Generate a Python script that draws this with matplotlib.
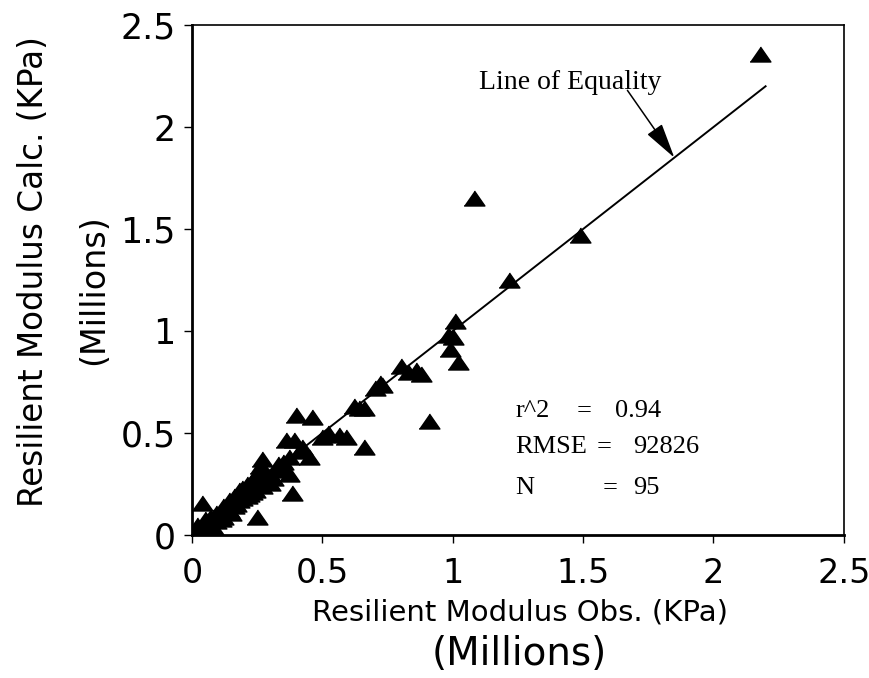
import matplotlib
matplotlib.use("Agg")
import matplotlib.pyplot as plt

obs = [0.00, 0.01, 0.02, 0.03, 0.04, 0.05, 0.06, 0.07, 0.08, 0.09,
       0.10, 0.11, 0.12, 0.13, 0.14, 0.15, 0.16, 0.17, 0.18, 0.19,
       0.20, 0.21, 0.22, 0.23, 0.24, 0.25, 0.25, 0.26, 0.27, 0.28,
       0.30, 0.29, 0.32, 0.04, 0.06, 0.02, 0.08, 0.12, 0.15, 0.18,
       0.22, 0.24, 0.27, 0.28, 0.31,
       0.36, 0.39, 0.40, 0.46, 0.37, 0.41, 0.45, 0.37, 0.385, 0.35,
       0.42, 0.34, 0.50, 0.52, 0.565, 0.59, 0.66, 0.62, 0.64, 0.66,
       0.72, 0.70, 0.73, 0.80, 0.86, 0.88, 0.83, 0.91, 0.98, 0.99,
       1.01, 1.02, 1.00, 1.215, 1.49, 1.08, 2.18,
       0.01, 0.03, 0.05, 0.07, 0.09, 0.11, 0.14, 0.16, 0.19, 0.21,
       0.23, 0.27, 0.33]
calc = [0.00, 0.01, 0.02, 0.025, 0.03, 0.05, 0.06, 0.05, 0.09, 0.07,
        0.10, 0.12, 0.09, 0.13, 0.12, 0.16, 0.19, 0.15, 0.22, 0.18,
        0.21, 0.19, 0.23, 0.27, 0.22, 0.09, 0.25, 0.34, 0.30, 0.26,
        0.255, 0.29, 0.32, 0.155, 0.03, 0.05, 0.04, 0.14, 0.11, 0.17,
        0.20, 0.29, 0.24, 0.31, 0.28,
        0.465, 0.465, 0.59, 0.58, 0.38, 0.41, 0.38, 0.30, 0.205, 0.36,
        0.43, 0.33, 0.48, 0.50, 0.49, 0.48, 0.43, 0.63, 0.62, 0.62,
        0.745, 0.72, 0.735, 0.83, 0.81, 0.79, 0.80, 0.56, 0.98, 0.91,
        1.05, 0.85, 0.97, 1.25, 1.47, 1.65, 2.36,
        0.03, 0.01, 0.08, 0.09, 0.11, 0.08, 0.17, 0.14, 0.23, 0.25,
        0.21, 0.37, 0.35]

eq_line = [0, 2.2]
ticks = [0, 0.5, 1, 1.5, 2, 2.5]
tick_labels = ["0", "0.5", "1", "1.5", "2", "2.5"]

fig = plt.figure(figsize=(8.69, 6.78), dpi=100)
ax = fig.add_axes([0.221, 0.211, 0.750, 0.752])

tri = [(-1, -0.72), (1, -0.72), (0, 0.72)]
ax.plot(eq_line, eq_line, color="black", lw=1.4, zorder=2)
ax.plot(obs, calc, linestyle="none", marker=tri, ms=15, color="black", zorder=3)

ax.set_xlim(0, 2.5)
ax.set_ylim(0, 2.5)
ax.set_xticks(ticks)
ax.set_xticklabels(tick_labels)
ax.set_yticks(ticks)
ax.set_yticklabels(tick_labels)
ax.tick_params(axis="x", direction="out", length=6, width=1, pad=10, labelsize=24)
ax.tick_params(axis="y", direction="out", length=6, width=1, pad=6, labelsize=25)

for s in ["left", "bottom"]:
    ax.spines[s].set_linewidth(2)
for s in ["top", "right"]:
    ax.spines[s].set_linewidth(1.2)

# axis titles, the "(Millions)" line under the x axis is drawn larger as in the original
fig.text(0.598, 1 - 612 / 678, "Resilient Modulus Obs. (KPa)", fontsize=21,
         ha="center", va="center")
fig.text(0.598, 1 - 654 / 678, "(Millions)", fontsize=28,
         ha="center", va="center")
fig.text(34 / 869, 1 - 272 / 678, "Resilient Modulus Calc. (KPa)", fontsize=23.5,
         rotation=90, ha="center", va="center")
fig.text(94 / 869, 1 - 290 / 678, "(Millions)", fontsize=24,
         rotation=90, ha="center", va="center")

serif = "Liberation Serif"
ax.text(1.10, 2.22, "Line of Equality", fontsize=20, family=serif,
        va="center", ha="left")
ax.annotate("", xy=(1.85, 1.85), xytext=(1.67, 2.18),
            arrowprops=dict(arrowstyle="-|>,head_length=1.1,head_width=0.28",
                            mutation_scale=20, color="black", lw=1.1,
                            shrinkA=0, shrinkB=0))

ax.text(1.24, 0.61, "r^2", fontsize=19, family=serif, va="center")
ax.text(1.476, 0.61, "=", fontsize=19, family=serif, va="center")
ax.text(1.622, 0.61, "0.94", fontsize=19, family=serif, va="center")
ax.text(1.24, 0.43, "RMSE", fontsize=19, family=serif, va="center")
ax.text(1.55, 0.43, "=", fontsize=19, family=serif, va="center")
ax.text(1.691, 0.43, "92826", fontsize=19, family=serif, va="center")
ax.text(1.24, 0.23, "N", fontsize=19, family=serif, va="center")
ax.text(1.576, 0.23, "=", fontsize=19, family=serif, va="center")
ax.text(1.691, 0.23, "95", fontsize=19, family=serif, va="center")

fig.savefig("out.png", dpi=100)
